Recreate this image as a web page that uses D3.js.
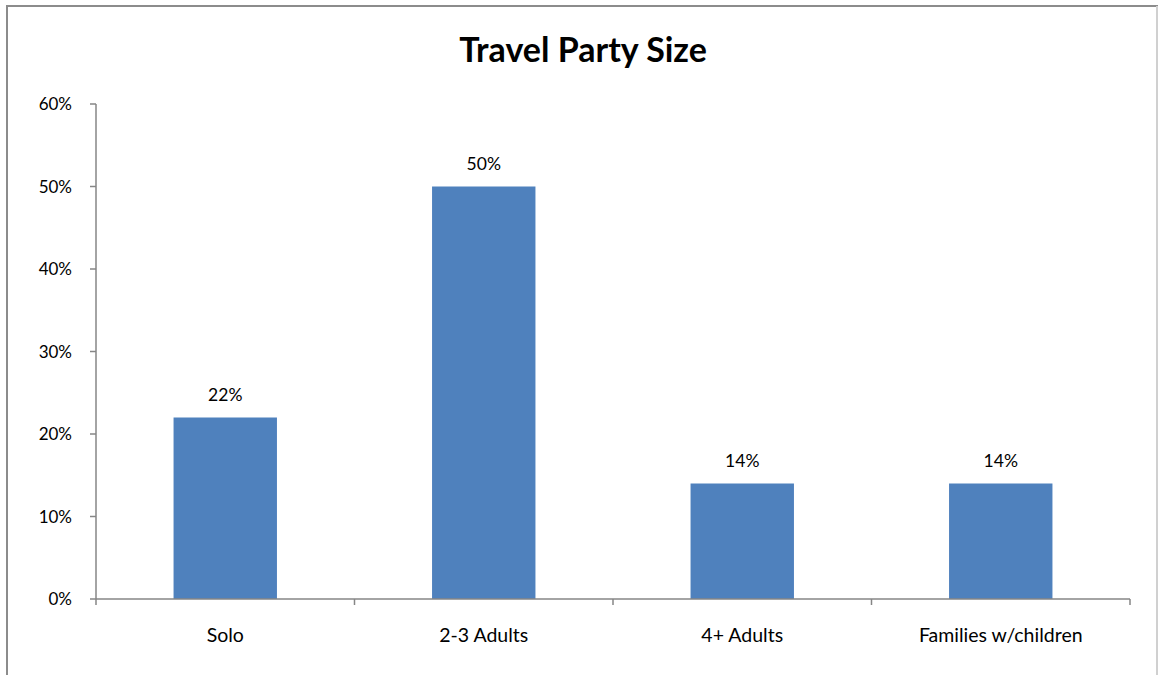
<!DOCTYPE html>
<html><head><meta charset="utf-8">
<script src="https://cdn.jsdelivr.net/npm/d3@7"></script>
<style>body{margin:0;background:#fff;} svg{display:block;font-family:Lato, "Open Sans", sans-serif;}</style>
</head><body>
<svg id="c" width="1158" height="675"></svg>
<script>
const categories = ["Solo", "2-3 Adults", "4+ Adults", "Families w/children"];
const values = [0.22, 0.50, 0.14, 0.14];
const yTicks = [0, 0.1, 0.2, 0.3, 0.4, 0.5, 0.6];
const title = "Travel Party Size";

const svg = d3.select("#c");
const m = {left: 96, right: 1130, top: 104, bottom: 599};

// outer border
svg.append("path").attr("d", "M7,700 V6 H1157 V700").attr("fill", "none").attr("stroke", "#8c8c8c").attr("stroke-width", 2);
svg.append("line").attr("x1",1157).attr("x2",1157).attr("y1",6).attr("y2",700).attr("stroke","#d0d0d0").attr("stroke-width",2);

const x = d3.scaleBand().domain(categories).range([m.left, m.right]).paddingInner(0.6).paddingOuter(0.3);
const xb = d3.scaleBand().domain(categories).range([m.left, m.right]);
const y = d3.scaleLinear().domain([0, 0.6]).range([m.bottom, m.top]);

svg.append("text").attr("x", 583).attr("y", 62).attr("text-anchor", "middle")
  .attr("font-size", 34).attr("font-weight", "bold").attr("fill", "#000").text(title);

svg.selectAll("rect.bar").data(values).join("rect").attr("class","bar")
  .attr("x", (d,i) => x(categories[i])).attr("width", x.bandwidth())
  .attr("y", d => y(d)).attr("height", d => y(0) - y(d)).attr("fill", "#4F81BD");

svg.selectAll("text.lbl").data(values).join("text").attr("class","lbl")
  .attr("x", (d,i) => x(categories[i]) + x.bandwidth()/2).attr("y", d => y(d) - 17)
  .attr("text-anchor","middle").attr("font-size", 17.5).attr("fill","#000")
  .text(d => Math.round(d*100) + "%");

// y axis
const ya = svg.append("g");
ya.append("line").attr("x1", m.left).attr("x2", m.left).attr("y1", m.top).attr("y2", m.bottom).attr("stroke","#868686").attr("stroke-width",1.5);
ya.selectAll("line.t").data(yTicks).join("line").attr("class","t")
  .attr("x1", m.left-6).attr("x2", m.left).attr("y1", d=>y(d)).attr("y2", d=>y(d)).attr("stroke","#868686").attr("stroke-width",1.5);
ya.selectAll("text").data(yTicks).join("text")
  .attr("x", 72).attr("y", d=>y(d)+6).attr("text-anchor","end").attr("font-size",17).attr("fill","#000")
  .text(d3.format(".0%"));

// x axis
const xa = svg.append("g");
xa.append("line").attr("x1", m.left).attr("x2", m.right).attr("y1", m.bottom).attr("y2", m.bottom).attr("stroke","#868686").attr("stroke-width",1.5);
const bounds = categories.map(c => xb(c)).concat([m.right]);
xa.selectAll("line.t").data(bounds).join("line").attr("class","t")
  .attr("x1", d=>d).attr("x2", d=>d).attr("y1", m.bottom).attr("y2", m.bottom+6).attr("stroke","#868686").attr("stroke-width",1.5);
xa.selectAll("text").data(categories).join("text")
  .attr("x", d => xb(d) + xb.bandwidth()/2).attr("y", 642).attr("text-anchor","middle").attr("font-size",19.5).attr("fill","#000")
  .text(d=>d);
</script>
</body></html>
